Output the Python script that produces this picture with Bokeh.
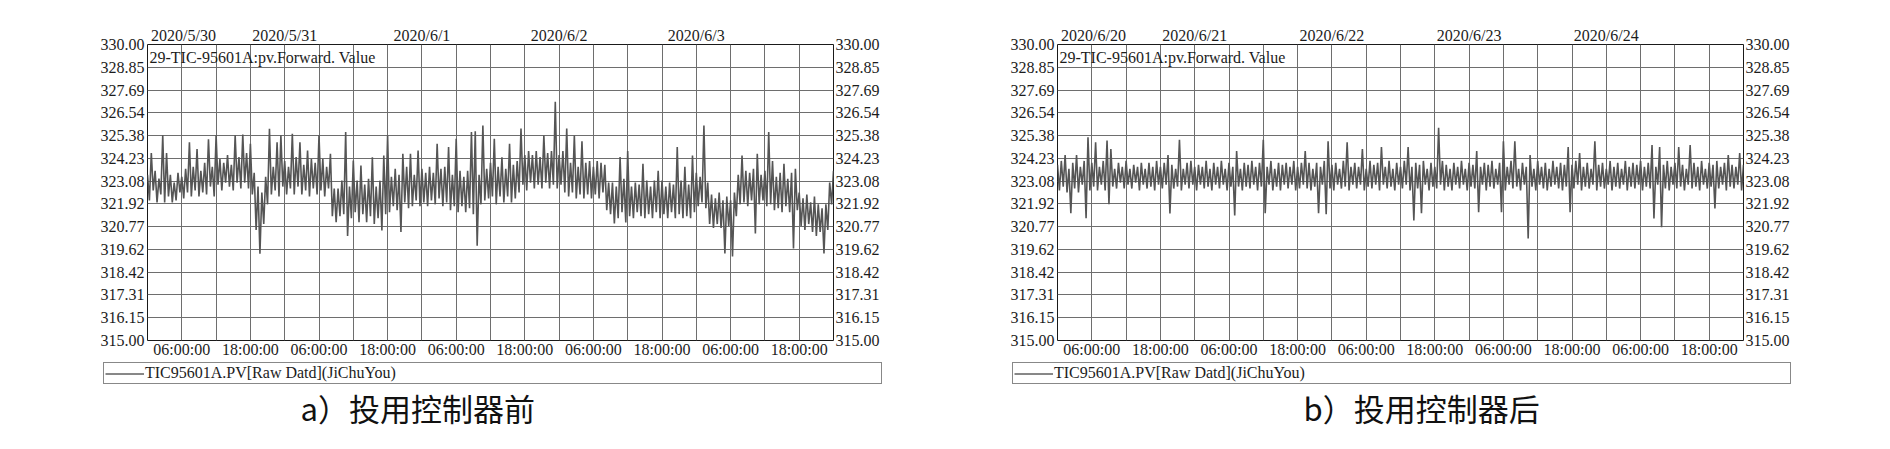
from bokeh.plotting import figure
from bokeh.models import Range1d, LinearAxis, FixedTicker, Legend, LegendItem, Label
from bokeh.layouts import row, column
from bokeh.embed import file_html
from bokeh.resources import INLINE

# ---------------- data ----------------
y_labels = ["315.00", "316.15", "317.31", "318.42", "319.62", "320.77", "321.92",
            "323.08", "324.23", "325.38", "326.54", "327.69", "328.85", "330.00"]
time_tick_hours = [6, 18, 30, 42, 54, 66, 78, 90, 102, 114]
time_labels = ["06:00:00", "18:00:00", "06:00:00", "18:00:00", "06:00:00",
               "18:00:00", "06:00:00", "18:00:00", "06:00:00", "18:00:00"]
grid_hours = [6, 12, 18, 24, 30, 36, 42, 48, 54, 60, 66, 72, 78, 84, 90, 96, 102, 108, 114]
date_tick_hours = [0, 24, 48, 72, 96]
a_dates = ["2020/5/30", "2020/5/31", "2020/6/1", "2020/6/2", "2020/6/3"]
b_dates = ["2020/6/20", "2020/6/21", "2020/6/22", "2020/6/23", "2020/6/24"]
tag_title = "29-TIC-95601A:pv.Forward. Value"
series_name = "TIC95601A.PV[Raw Datd](JiChuYou)"
captions = ["a）投用控制器前", "b）投用控制器后"]
sample_minutes = 20

# trace before the controller (one reading every 20 min over 5 days)
a_values = [
    323.4, 322.1, 324.5, 322.6, 323.6, 322.0, 323.2, 322.4, 325.4,
    322.0, 324.5, 322.3, 323.4, 322.0, 323.0, 322.1, 323.5, 322.5,
    323.3, 322.2, 323.7, 322.5, 325.05, 322.3, 323.8, 322.6, 324.7,
    322.3, 323.6, 322.5, 324.0, 322.4, 325.2, 322.8, 323.8, 322.3,
    325.4, 322.9, 324.2, 322.6, 324.0, 323.0, 324.4, 322.8, 323.9,
    322.6, 325.4, 323.0, 324.3, 322.7, 325.44, 323.0, 324.5, 322.7,
    324.97, 322.4, 323.5, 320.6, 322.8, 319.4, 322.5, 320.9, 323.3,
    321.9, 325.73, 322.4, 323.8, 322.6, 325.05, 322.3, 325.4, 322.8,
    324.1, 322.4, 323.8, 322.7, 325.47, 322.4, 324.3, 322.8, 325.05,
    322.4, 323.9, 322.6, 324.63, 322.3, 324.2, 322.7, 324.0, 322.4,
    325.4, 322.6, 324.2, 322.3, 323.8, 322.7, 324.46, 321.3, 322.7,
    321.0, 322.7, 321.3, 323.1, 321.4, 325.56, 320.3, 322.8, 321.2,
    324.12, 321.5, 323.1, 321.0, 323.87, 321.4, 322.9, 321.0, 323.2,
    321.3, 324.29, 320.9, 322.8, 321.2, 323.1, 320.57, 324.37, 321.4,
    325.39, 321.5, 323.3, 321.8, 323.7, 321.6, 323.4, 320.5, 324.46,
    322.0, 323.8, 321.7, 324.46, 321.8, 323.4, 322.1, 324.63, 321.8,
    323.7, 322.0, 323.5, 321.8, 323.8, 322.1, 323.5, 321.9, 324.97,
    322.2, 323.7, 321.8, 323.8, 322.0, 324.8, 321.6, 323.4, 321.8,
    325.22, 321.5, 323.6, 321.8, 323.3, 321.5, 323.6, 321.7, 325.56,
    321.4, 325.6, 319.8, 323.4, 321.9, 325.9, 322.1, 323.7, 322.2,
    324.0, 322.3, 325.22, 321.9, 323.8, 322.3, 324.29, 322.0, 323.7,
    322.3, 324.97, 322.0, 323.9, 322.2, 324.1, 322.5, 325.74, 322.9,
    324.4, 322.6, 324.6, 323.0, 324.4, 322.7, 324.6, 322.9, 324.3,
    322.7, 325.39, 323.0, 324.5, 322.7, 324.6, 322.9, 327.1, 322.7,
    324.4, 322.9, 324.6, 322.5, 325.74, 322.3, 324.0, 322.5, 325.39,
    322.2, 323.8, 322.4, 325.1, 322.2, 324.0, 322.4, 324.1, 322.2,
    323.8, 322.4, 324.1, 322.2, 324.0, 322.5, 323.9, 321.6, 323.0,
    321.4, 323.0, 320.93, 322.8, 321.2, 324.3, 321.5, 323.2, 320.98,
    324.6, 321.3, 322.8, 321.2, 323.0, 321.5, 322.9, 321.3, 323.95,
    321.2, 323.1, 321.4, 322.8, 321.2, 323.1, 321.5, 323.6, 321.2,
    323.1, 321.4, 322.8, 321.2, 323.0, 321.5, 322.9, 321.2, 324.8,
    321.4, 323.1, 321.2, 323.8, 321.3, 322.9, 321.2, 324.37, 321.5,
    323.5, 321.8, 323.3, 322.0, 325.9, 321.7, 323.0, 320.9, 322.4,
    320.7, 322.2, 320.9, 322.5, 320.7, 322.1, 319.41, 322.3, 320.8,
    322.1, 319.26, 322.5, 321.3, 323.4, 321.9, 324.37, 322.0, 323.6,
    321.8, 323.5, 322.1, 323.7, 320.42, 324.46, 321.9, 323.4, 322.1,
    323.6, 321.8, 325.56, 321.9, 324.1, 321.6, 323.3, 321.7, 323.5,
    321.5, 323.95, 321.8, 323.2, 321.5, 323.5, 319.66, 323.7, 321.6,
    322.5, 320.8, 322.2, 320.6, 322.4, 320.9, 322.0, 320.5, 322.3,
    320.3, 321.9, 320.5, 321.7, 319.41, 321.9, 320.6, 323.0, 321.9,
    323.6,
]

# trace after the controller (one reading every 20 min over 5 days)
b_values = [
    323.9, 322.6, 324.1, 322.8, 324.4, 322.5, 323.7, 321.45, 324.0,
    322.7, 324.4, 322.5, 323.8, 322.9, 324.1, 321.2, 325.3, 322.6,
    324.0, 322.8, 325.05, 322.6, 323.8, 322.9, 324.1, 322.6, 325.13,
    321.9, 324.7, 322.8, 323.7, 322.7, 324.0, 323.0, 323.8, 322.7,
    324.1, 322.9, 323.7, 322.7, 323.9, 323.0, 323.8, 322.6, 324.0,
    322.9, 323.7, 322.7, 324.0, 322.8, 323.8, 322.6, 324.1, 322.9,
    323.8, 322.7, 324.0, 322.9, 324.4, 321.44, 323.9, 322.7, 323.7,
    322.8, 325.17, 322.6, 323.7, 322.9, 324.0, 322.7, 324.1, 322.9,
    323.8, 322.6, 323.9, 322.9, 323.8, 322.7, 324.1, 322.8, 323.7,
    322.6, 324.0, 322.9, 323.8, 322.7, 324.1, 322.9, 323.7, 322.6,
    324.0, 322.8, 323.8, 321.33, 324.6, 322.8, 323.7, 322.6, 324.0,
    322.8, 323.9, 322.7, 324.1, 322.9, 323.8, 322.6, 324.0, 322.8,
    325.17, 321.45, 323.8, 322.9, 324.1, 322.6, 323.7, 322.8, 324.0,
    322.6, 323.9, 322.9, 324.0, 322.7, 323.8, 322.9, 324.1, 322.6,
    323.8, 322.7, 324.0, 322.9, 324.6, 322.7, 324.0, 322.6, 323.7,
    322.8, 324.0, 321.45, 323.8, 322.9, 324.1, 321.4, 325.1, 322.7,
    323.9, 322.6, 324.0, 322.9, 323.7, 322.7, 324.1, 322.8, 325.05,
    322.6, 323.8, 322.9, 324.0, 322.7, 323.8, 322.9, 324.7, 322.6,
    323.7, 322.8, 324.1, 322.7, 323.9, 322.9, 324.0, 322.6, 324.8,
    322.9, 323.8, 322.7, 324.1, 322.8, 323.7, 322.6, 324.0, 322.9,
    323.8, 322.7, 324.1, 322.9, 324.8, 322.6, 323.8, 321.08, 324.0,
    322.7, 323.9, 321.45, 324.1, 322.9, 323.7, 322.6, 324.0, 322.8,
    323.8, 322.7, 325.78, 322.9, 324.1, 322.6, 323.9, 322.8, 323.7,
    322.6, 324.0, 322.9, 323.8, 322.7, 324.1, 322.9, 323.7, 322.6,
    324.0, 322.8, 323.9, 322.7, 324.6, 321.5, 323.8, 322.9, 324.0,
    322.6, 323.9, 322.8, 324.1, 322.7, 323.7, 322.9, 324.0, 321.5,
    325.1, 322.6, 323.8, 322.9, 324.1, 322.7, 325.1, 322.8, 323.7,
    322.6, 324.0, 322.9, 323.8, 320.17, 324.4, 322.8, 323.7, 322.6,
    324.1, 322.9, 323.8, 322.7, 324.0, 322.6, 323.7, 322.8, 324.1,
    322.9, 323.8, 322.7, 324.0, 322.6, 323.9, 322.8, 324.8, 321.5,
    323.9, 322.7, 324.1, 322.9, 324.5, 322.6, 323.8, 322.8, 324.0,
    322.7, 323.7, 322.9, 325.1, 322.6, 323.9, 322.8, 324.0, 322.7,
    323.7, 322.9, 324.1, 322.6, 323.8, 322.8, 324.0, 322.7, 323.7,
    322.9, 324.1, 322.6, 323.8, 322.8, 324.0, 322.7, 323.9, 322.9,
    324.1, 322.6, 323.8, 322.8, 324.0, 322.7, 324.9, 321.18, 323.8,
    322.9, 324.8, 320.74, 323.9, 322.7, 324.1, 322.6, 323.8, 322.9,
    324.0, 322.7, 324.8, 322.8, 323.9, 322.6, 323.7, 322.9, 324.9,
    322.7, 324.0, 322.8, 323.8, 322.6, 324.1, 322.9, 323.7, 322.7,
    324.0, 322.8, 323.9, 321.69, 324.1, 322.7, 323.8, 322.9, 324.0,
    322.6, 324.4, 322.8, 323.9, 322.7, 323.8, 322.9, 324.5, 322.6,
    323.9,
]

# ---------------- drawing ----------------
SERIF = "Liberation Serif"
TEXT = "#1c1c1c"
GRID = "#6e6e6e"
NBSP = "\u00a0"
y_ticks = [315 + 15 * k / 13 for k in range(len(y_labels))]
STRIP_H = 87


def style_axis(ax, standoff):
    ax.major_label_text_font = SERIF
    ax.major_label_text_font_size = "16px"
    ax.major_label_text_color = TEXT
    ax.axis_line_color = None
    ax.major_tick_line_color = None
    ax.minor_tick_line_color = None
    ax.major_tick_out = 0
    ax.major_tick_in = 0
    ax.minor_tick_out = 0
    ax.minor_tick_in = 0
    ax.major_label_standoff = standoff


def make_chart(hours, values, dates, border_left, border_right):
    p = figure(frame_width=686, frame_height=296,
               min_border_left=border_left, min_border_right=border_right,
               min_border_top=44, min_border_bottom=16,
               x_range=Range1d(0, 120), y_range=Range1d(315, 330),
               output_backend="svg", toolbar_location=None)
    p.background_fill_color = "white"
    p.border_fill_color = "white"
    p.outline_line_color = "#1a1a1a"
    p.outline_line_width = 1

    yl = p.yaxis[0]
    yl.ticker = FixedTicker(ticks=y_ticks)
    yl.major_label_overrides = dict(zip(y_ticks, y_labels))
    style_axis(yl, 3)
    yr = LinearAxis(ticker=FixedTicker(ticks=y_ticks),
                    major_label_overrides=dict(zip(y_ticks, y_labels)))
    style_axis(yr, 2)
    p.add_layout(yr, "right")

    xb = p.xaxis[0]
    xb.ticker = FixedTicker(ticks=time_tick_hours)
    xb.major_label_overrides = dict(zip(time_tick_hours, time_labels))
    style_axis(xb, 0)

    date_text = [NBSP * 18 + dates[0]] + dates[1:]
    xt = LinearAxis(ticker=FixedTicker(ticks=date_tick_hours),
                    major_label_overrides=dict(zip(date_tick_hours, date_text)))
    style_axis(xt, 1)
    p.add_layout(xt, "above")

    p.xgrid.ticker = FixedTicker(ticks=grid_hours)
    p.xgrid.grid_line_color = GRID
    p.ygrid.grid_line_color = GRID

    p.line(hours, values, line_color="#555555", line_width=1.6)

    p.add_layout(Label(x=hours[0], y=y_ticks[-1], text=tag_title, x_offset=2, y_offset=-4,
                       text_align="left", text_baseline="top",
                       text_font=SERIF, text_font_size="16px", text_color=TEXT))
    return p


def make_strip(hours, values, width, legend_left, caption_left, caption):
    # pixel-unit strip below a chart: legend box and panel caption
    s = figure(frame_width=width, frame_height=STRIP_H, min_border=0,
               x_range=Range1d(0, width), y_range=Range1d(0, STRIP_H),
               x_axis_location=None, y_axis_location=None,
               output_backend="svg", toolbar_location=None)
    s.grid.visible = False
    s.outline_line_color = None
    s.background_fill_color = "white"
    s.border_fill_color = "white"
    # the series itself (values lie outside this strip's view) supplies the legend key
    key = s.line(hours, values, line_color="#111111", line_width=1)
    legend = Legend(items=[LegendItem(label=series_name, renderers=[key])],
                    location=(legend_left, 63), orientation="vertical",
                    border_line_color="#111111", border_line_width=1,
                    background_fill_color="white", background_fill_alpha=1,
                    padding=1, margin=0, spacing=0,
                    glyph_width=39, glyph_height=15, label_height=15,
                    label_width=735, label_standoff=1,
                    label_text_font=SERIF, label_text_font_size="16px",
                    label_text_color=TEXT)
    s.add_layout(legend)
    s.add_layout(Label(x=caption_left, y=40, x_units="screen", y_units="screen",
                       text=caption, text_align="left", text_baseline="middle",
                       text_font="Noto Sans CJK SC", text_font_size="31px",
                       text_color="#111111"))
    return s


a_hours = [i * sample_minutes / 60 for i in range(len(a_values))]
b_hours = [i * sample_minutes / 60 for i in range(len(b_values))]

pa = make_chart(a_hours, a_values, a_dates, 147, 112)
pb = make_chart(b_hours, b_values, b_dates, 112, 140)
sa = make_strip(a_hours, a_values, 945, 103, 300, captions[0])
sb = make_strip(b_hours, b_values, 938, 67, 358, captions[1])

layout = column(row(pa, pb), row(sa, sb))
open("out.html", "w").write(file_html(layout, INLINE))
